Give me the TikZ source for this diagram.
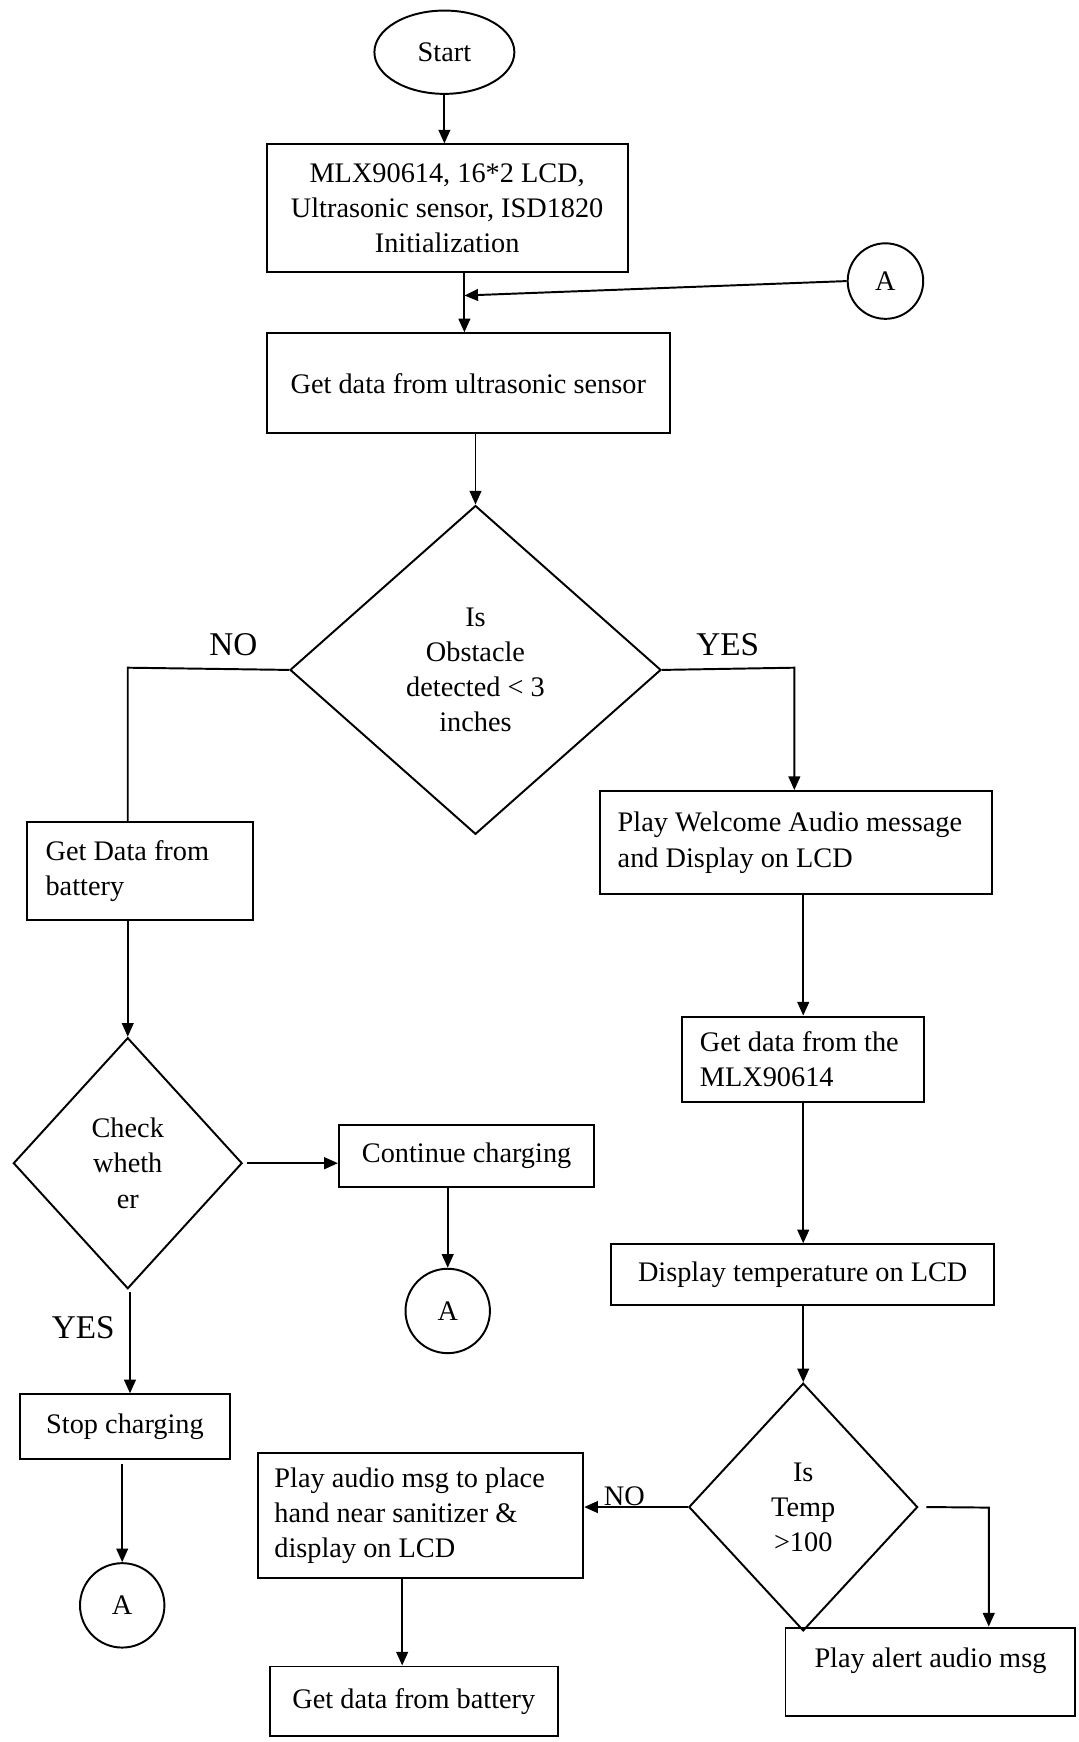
\documentclass[tikz,border=0pt]{standalone}
\usepackage{fontspec}
\setmainfont{Liberation Serif}
\usetikzlibrary{shapes.geometric,arrows.meta,calc}
\begin{document}
\begin{tikzpicture}[x=0.02cm,y=-0.02cm,
  every node/.style={font=\fontsize{14.5}{18}\selectfont},
  box/.style={draw,line width=1pt,rectangle,inner sep=0pt,align=center},
  lbox/.style={draw,line width=1pt,rectangle,inner xsep=0.32cm,inner ysep=0pt,align=flush left},
  dia/.style={draw,line width=1pt,diamond,inner sep=0pt,align=center},
  conn/.style={draw,line width=1pt,circle,inner sep=0pt,minimum size=1.52cm},
  lbl/.style={font=\fontsize{17}{20}\selectfont},
  line/.style={line width=1pt},
  arr/.style={line width=1pt,-{Triangle[length=7pt,width=6pt]}}]
\useasboundingbox (0,0) rectangle (971,1568);

% nodes
\node[draw,line width=1pt,ellipse,minimum width=2.52cm,minimum height=1.5cm,inner sep=0pt] (start) at (400,47) {Start};
\node[box,minimum width=6.5cm,minimum height=2.3cm] (init) at (402.5,187.5) {MLX90614, 16*2 LCD,\\Ultrasonic sensor, ISD1820\\Initialization};
\node[conn,minimum size=1.36cm] (A1) at (797,253) {A};
\node[box,minimum width=7.26cm,minimum height=1.8cm] (ultra) at (421.5,345) {Get data from ultrasonic sensor};
\node[dia,minimum width=6.68cm,minimum height=5.92cm] (d1) at (428,603) {Is\\Obstacle\\detected \textless{} 3\\inches};
\node[lbox,inner xsep=0.34cm,text width=3.4cm,minimum height=1.76cm] (bat1) at (126,784) {Get Data from\\battery};
\node[lbox,text width=6.42cm,minimum height=1.86cm] (welcome) at (716.5,758.5) {Play Welcome Audio message\\and Display on LCD};
\node[lbox,text width=3.72cm,minimum height=1.54cm] (mlx) at (723,953.5) {Get data from the\\MLX90614};
\node[box,minimum width=6.9cm,minimum height=1.1cm] (disp) at (722.5,1147.5) {Display temperature on LCD};
\node[dia,minimum width=4.12cm,minimum height=4.46cm] (d2) at (723,1356.5) {Is\\Temp\\\textgreater100};
\node[box,minimum width=5.22cm,minimum height=1.6cm,text depth=0.5cm] (alert) at (837.5,1505) {Play alert audio msg};
\node[lbox,inner xsep=0.3cm,text width=5.26cm,minimum height=2.24cm] (play) at (378.5,1364) {Play audio msg to place\\hand near sanitizer \&\\display on LCD};
\node[box,minimum width=5.18cm,minimum height=1.26cm] (bat2) at (372.5,1531.5) {Get data from battery};
\node[dia,minimum width=4.12cm,minimum height=4.52cm] (d3) at (115,1047) {Check\\wheth\\er};
\node[box,minimum width=4.6cm,minimum height=1.1cm] (cont) at (420,1040.5) {Continue charging};
\node[conn] (A2) at (403,1180) {A};
\node[box,minimum width=3.78cm,minimum height=1.16cm] (stop) at (112.5,1284) {Stop charging};
\node[conn] (A3) at (110,1445) {A};

% labels
\node[lbl] (noA) at (210,580) {NO};
\node[lbl] (yesA) at (655,580) {YES};
\node[lbl] (yesB) at (75,1195) {YES};
\node (noB) at (562,1347) {NO};

% helper coordinates
\coordinate (j1) at (418,266);
\coordinate (cNo) at (115,601);
\coordinate (cYes) at (715,601);
\coordinate (cR) at (890,1357);
\coordinate (cP) at (362,1420);
\coordinate (cS) at (117,1163);
\coordinate (cE) at (222,1047);
\coordinate (cT) at (110,1318);

% connectors
\draw[arr] (start.south) -- (start.south |- init.north);
\draw[line] (init.south -| j1) -- (j1);
\draw[arr] (j1) -- (ultra.north -| j1);
\draw[arr] (A1.west) -- (j1);
\draw[arr] (ultra.south -| d1.north) -- (d1.north);
\draw[line] (d1.west) -- (cNo) -- (cNo |- bat1.north);
\draw[arr] (d1.east) -- (cYes) -- (cYes |- welcome.north);
\draw[arr] (mlx.north |- welcome.south) -- (mlx.north);
\draw[arr] (mlx.south) -- (mlx.south |- disp.north);
\draw[arr] (disp.south -| d2.north) -- (d2.north);
\draw[arr] (d2.west) -- (d2.west -| play.east);
\draw[arr] ($(d2.east)+(7,0)$) -- (cR) -- (cR |- alert.north);
\draw[arr] (cP |- play.south) -- (cP |- bat2.north);
\draw[arr] (bat1.south -| d3.north) -- (d3.north);
\draw[arr] (cE) -- (cE -| cont.west);
\draw[arr] (A2.north |- cont.south) -- (A2.north);
\draw[arr] (cS) -- (cS |- stop.north);
\draw[arr] (cT) -- (A3.north);
\end{tikzpicture}
\end{document}
